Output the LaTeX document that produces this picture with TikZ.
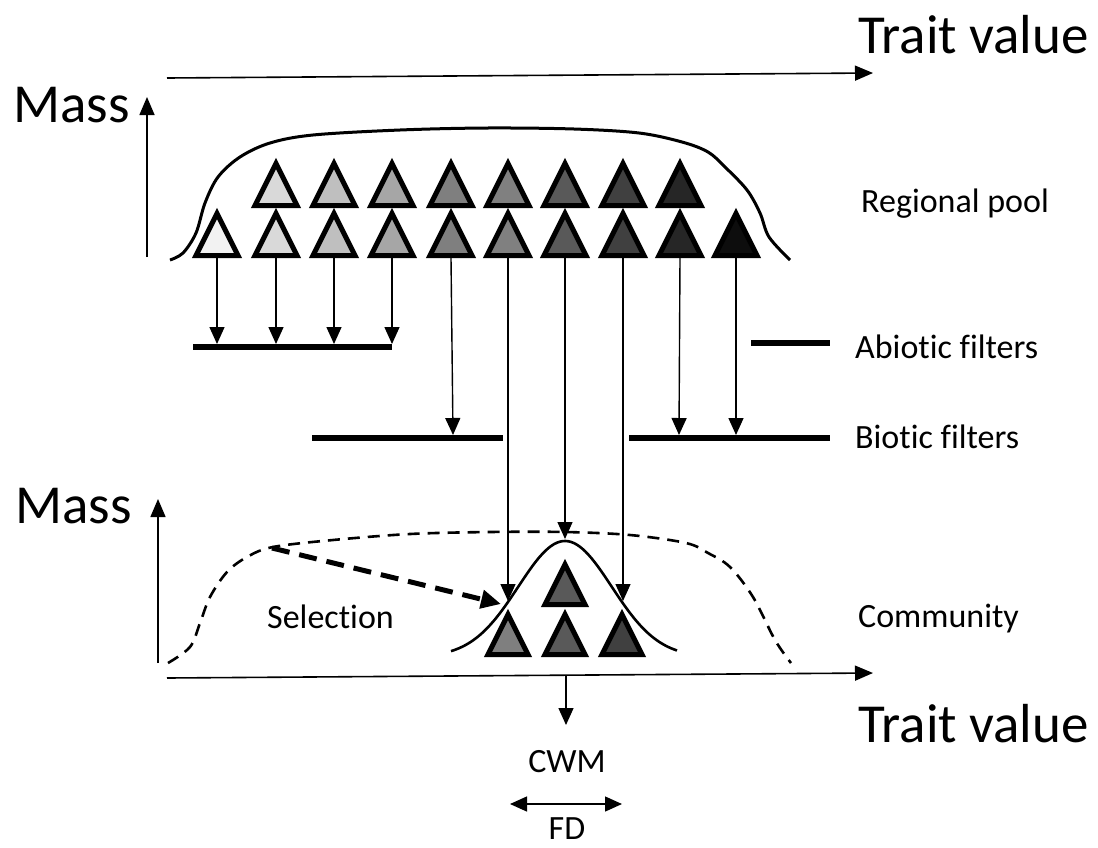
\documentclass[tikz,border=0pt]{standalone}
\usepackage{fontspec}
\setmainfont[Ligatures={NoCommon}]{Carlito}
\usetikzlibrary{arrows.meta}
\definecolor{g1}{HTML}{F2F2F2}
\definecolor{g2}{HTML}{D9D9D9}
\definecolor{g3}{HTML}{BFBFBF}
\definecolor{g4}{HTML}{A6A6A6}
\definecolor{g5}{HTML}{7F7F7F}
\definecolor{g6}{HTML}{808080}
\definecolor{g7}{HTML}{595959}
\definecolor{g8}{HTML}{404040}
\definecolor{g9}{HTML}{262626}
\definecolor{g10}{HTML}{0D0D0D}
\newcommand\mytri[4]{%
  \filldraw[tri,fill=#4] ({#1-0.5*#3+4},{#2-2.5}) -- ({#1+0.5*#3-4},{#2-2.5}) -- (#1,{#2-#3+5.5}) -- cycle;}
\begin{document}
\begin{tikzpicture}[x=1pt,y=-1pt,
  lbl/.style={anchor=base west,inner sep=0pt,font=\fontsize{34}{40}\selectfont},
  clbl/.style={anchor=base,inner sep=0pt,font=\fontsize{34}{40}\selectfont},
  big/.style={anchor=base west,inner sep=0pt,font=\fontsize{55}{60}\selectfont},
  thinarrow/.style={line width=1.4pt,-{Triangle[length=17pt,width=15pt]}},
  axis/.style={line width=1.6pt,-{Triangle[length=18pt,width=15pt]}},
  filterbar/.style={line width=6pt},
  tri/.style={line width=5pt,line join=miter,draw=black},
  curve/.style={line width=3pt},
  dcurve/.style={line width=2.6pt,dash pattern=on 12pt off 8pt},
]
\useasboundingbox (0,0) rectangle (1098,847);

% ---- labels ----
\node[big] (tvTop) at (858,53) {Trait value};
\node[big] (massTop) at (13,122) {Mass};
\node[big] (tvBot) at (858,742) {Trait value};
\node[big] (massBot) at (15,523) {Mass};
\node[lbl] (regpool) at (861,212) {Regional pool};
\node[lbl] (abio) at (855,358) {Abiotic filters};
\node[lbl] (bio) at (855,448) {Biotic filters};
\node[lbl] (comm) at (858,627) {Community};
\node[lbl] (sel) at (267,628) {Selection};
\node[clbl] (cwm) at (567,772) {CWM};
\node[clbl] (fd) at (567,839) {FD};

% ---- axes ----
\coordinate (axTL) at (167,78);
\coordinate (axTR) at (873,73);
\coordinate (upTB) at (147,257);
\coordinate (upTT) at (147,97);
\coordinate (axBL) at (167,678);
\coordinate (axBR) at (873,673);
\coordinate (upBB) at (158,663);
\coordinate (upBT) at (158,499);
\draw[axis] (axTL) -- (axTR);
\draw[axis] (upTB) -- (upTT);
\draw[axis] (axBL) -- (axBR);
\draw[axis] (upBB) -- (upBT);

% ---- regional pool curve ----
\draw[curve] plot[smooth,tension=0.55] coordinates {(170,260) (183,253) (196,233) (205,203) (218,177) (240,157) (270,143) (313,135) (400,130) (487,128) (574,129) (639,133) (682,142) (708,152) (725,167) (747,190) (760,213) (769,237) (790,260)};

% ---- pool triangles ----
\foreach \i/\x in {2/276,3/334,4/392,5/451,6/508,7/565,8/623,9/680}
  {\mytri{\x}{208}{50}{g\i}}
\foreach \i/\x in {1/217,2/276,3/334,4/392,5/451,6/508,7/565,8/623,9/680,10/736}
  {\coordinate (b\i) at (\x,258); \mytri{\x}{258}{50}{g\i}}

% ---- filters ----
\coordinate (abL) at (193,347);
\coordinate (abR) at (392,347);
\coordinate (biL1) at (312,438);
\coordinate (biR1) at (503,438);
\coordinate (biL2) at (629,438);
\coordinate (biR2) at (830,438);
\coordinate (legAL) at (751,343);
\coordinate (legAR) at (830,343);
\draw[filterbar] (abL) -- (abR);
\draw[filterbar] (biL1) -- (biR1);
\draw[filterbar] (biL2) -- (biR2);
\draw[filterbar] (legAL) -- (legAR);

\foreach \i/\x in {1/217,2/276,3/334,4/392}
  {\coordinate (f\i) at (\x,344); \draw[thinarrow] (b\i) -- (f\i);}
\coordinate (f5) at (453,435);
\coordinate (f9) at (679,435);
\coordinate (f10) at (736,435);
\draw[thinarrow] (b5) -- (f5);
\draw[thinarrow] (b9) -- (f9);
\draw[thinarrow] (b10) -- (f10);

% ---- community ----
\draw[dcurve] plot[smooth,tension=0.55] coordinates {(168,663) (190,647) (200,623) (210,597) (227,572) (247,557) (273,547) (333,540) (410,534) (490,532) (565,532) (630,535) (686,543) (708,553) (730,567) (753,597) (775,640) (791,663)};
\draw[line width=2.6pt] plot[domain=451:677,samples=80,smooth] (\x,{657-116*exp(-((\x-565)/66)^2)});

\mytri{565}{607}{48}{g7}
\mytri{508}{657}{48}{g5}
\mytri{565}{657}{48}{g7}
\mytri{622}{657}{48}{g8}

\coordinate (c6) at (508,601);
\coordinate (c7) at (565,539);
\coordinate (c8) at (623,601);
\draw[thinarrow] (b6) -- (c6);
\draw[thinarrow] (b7) -- (c7);
\draw[thinarrow] (b8) -- (c8);

% ---- selection ----
\coordinate (selS) at (272,548);
\coordinate (selE) at (501,604);
\draw[line width=5pt,dash pattern=on 18pt off 10pt,-{Triangle[length=20pt,width=18pt]}] (selS) -- (selE);

% ---- CWM / FD ----
\coordinate (cwmS) at (566,675);
\coordinate (cwmE) at (566,725);
\draw[thinarrow] (cwmS) -- (cwmE);
\coordinate (fdL) at (510,804);
\coordinate (fdR) at (622,804);
\draw[line width=1.4pt,{Triangle[length=17pt,width=15pt]}-{Triangle[length=17pt,width=15pt]}] (fdL) -- (fdR);
\end{tikzpicture}
\end{document}
